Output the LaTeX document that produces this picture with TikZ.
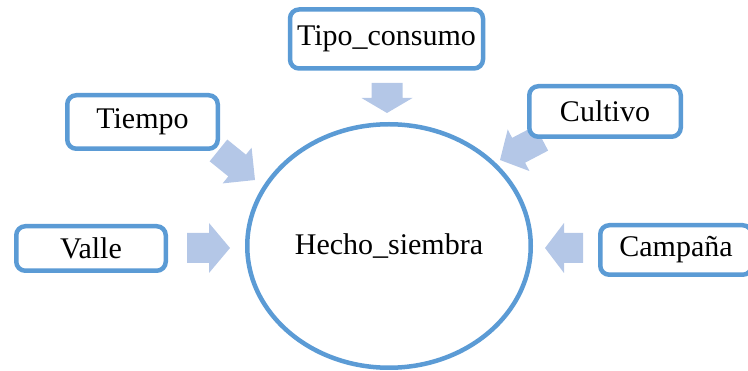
\documentclass[tikz,border=0pt]{standalone}
\usepackage{fontspec}
\setmainfont{Liberation Serif}
\usetikzlibrary{shapes.geometric}
\definecolor{boxblue}{HTML}{5B9BD5}
\definecolor{arrowblue}{HTML}{B4C7E7}
\tikzset{
  box/.style={draw=boxblue, line width=4.5pt, rounded corners=9pt, fill=white,
    inner sep=0pt, font=\fontsize{30}{36}\selectfont},
  hub/.style={ellipse, draw=boxblue, line width=4.5pt, fill=white, inner sep=0pt,
    font=\fontsize{30}{36}\selectfont},
  blockfill/.style={fill=arrowblue, draw=none}
}
% #1 tip name, #2 angle, #3 length, #4 head length, #5 head width, #6 shaft width
\newcommand\blockarr[6]{%
  \begin{scope}[shift={(#1)}, rotate=#2]
    \fill[blockfill] (0,0) -- (-#4,#5/2) -- (-#4,#6/2) -- (-#3,#6/2)
      -- (-#3,-#6/2) -- (-#4,-#6/2) -- (-#4,-#5/2) -- cycle;
  \end{scope}}
\begin{document}
\begin{tikzpicture}[x=1pt,y=-1pt]
\useasboundingbox (0,0) rectangle (748,371);
% arrow tips
\coordinate (tTipo) at (387,113);
\coordinate (tTiempo) at (255,180);
\coordinate (tCultivo) at (500,160);
\coordinate (tValle) at (230,248);
\coordinate (tCampana) at (545,248);
\blockarr{tTipo}{-90}{30}{15}{51}{31}
\blockarr{tTiempo}{-39}{47}{23}{46}{28}
\blockarr{tCultivo}{207.6}{47}{21}{47}{28}
\blockarr{tValle}{0}{43}{21}{50}{30}
\blockarr{tCampana}{180}{38}{19}{50}{30}
% nodes
\node[hub, minimum width=283.5pt, minimum height=243.5pt] (hecho) at (389,246) {Hecho\_siembra};
\node[box, minimum width=193pt, minimum height=59pt] (tipo) at (386.5,39) {Tipo\_consumo};
\node[box, minimum width=150.5pt, minimum height=53.5pt] (tiempo) at (142.5,122) {Tiempo};
\node[box, minimum width=151.5pt, minimum height=50.5pt] (cultivo) at (605,111.5) {Cultivo};
\node[box, minimum width=149.5pt, minimum height=44.5pt] (valle) at (91,248.5) {Valle};
\node[box, minimum width=151.5pt, minimum height=49.5pt] (campana) at (676,250) {Campaña};
\end{tikzpicture}
\end{document}
